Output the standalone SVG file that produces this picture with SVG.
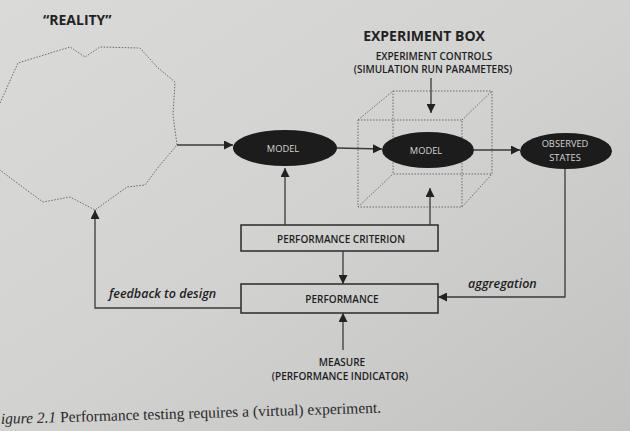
<svg xmlns="http://www.w3.org/2000/svg" width="630" height="431" viewBox="0 0 630 431">
<defs>
<linearGradient id="bg" x1="0" y1="0" x2="1" y2="1">
<stop offset="0" stop-color="#dadad9"/>
<stop offset="0.5" stop-color="#d2d2d1"/>
<stop offset="1" stop-color="#c2c2c1"/>
</linearGradient>
<marker id="ah" viewBox="0 0 10 10" refX="10" refY="5" markerWidth="9" markerHeight="9" markerUnits="userSpaceOnUse" orient="auto">
<path d="M0,0 L10,5 L0,10 Z" fill="#222"/>
</marker>
<style>
.ln{fill:none;stroke:#3a3a3a;stroke-width:1.3}
.dot{fill:none;stroke:#6a6a6a;stroke-width:1;stroke-dasharray:1.5 1.5}
.ell{fill:#1c1c1c}
.box{fill:none;stroke:#2a2a2a;stroke-width:1.5}
.sans{font-family:"Open Sans","Liberation Sans",sans-serif;}
.wt{fill:#d4d4d4;font-size:9.3px;text-anchor:middle;font-weight:400}
.bt{fill:#1e1e1e;font-size:10px;text-anchor:middle;font-weight:600}
.it{fill:#1e1e1e;font-size:12.5px;font-style:italic;font-weight:600}
.ti{fill:#222;font-size:14px;font-weight:bold}
</style>
</defs>
<rect width="630" height="431" fill="url(#bg)"/>
<text x="43" y="25" class="sans ti">“REALITY”</text>
<text x="424" y="41" class="sans ti" text-anchor="middle">EXPERIMENT BOX</text>
<text x="434" y="60" class="sans bt" font-weight="400" font-size="10.3">EXPERIMENT CONTROLS</text>
<text x="433" y="73" class="sans bt" font-weight="400" font-size="10.3">(SIMULATION RUN PARAMETERS)</text>

<g id="reality">
<path class="dot" d="M0,103 L18,63 L70,47 L85,57 L100,47 L140,48 L157,67 L175,82 L173,115 L177,145 L160,165 L145,185 L127,187 L95,210 L70,197 L43,202 L17,183 L0,170"/>
</g>
<g id="experiment-box">
<path class="dot" d="M358,120 H462 V207 H358 Z M393,91 H492 V174 H393 Z M358,120 L393,91 M462,120 L492,91 M462,207 L492,174 M358,207 L393,174"/>
</g>
<g id="model1">
<ellipse class="ell" cx="285" cy="148" rx="52" ry="18"/>
<text x="283" y="152" class="sans wt">MODEL</text>
</g>
<g id="model2">
<ellipse class="ell" cx="428" cy="150" rx="46" ry="18"/>
<text x="426" y="154" class="sans wt">MODEL</text>
</g>
<g id="observed">
<ellipse class="ell" cx="566" cy="151" rx="46" ry="18"/>
<text x="565" y="147" class="sans wt">OBSERVED</text>
<text x="565" y="161" class="sans wt">STATES</text>
</g>
<g id="criterion">
<rect class="box" x="241" y="225" width="197" height="26"/>
<text x="341" y="243" class="sans bt" font-size="10.5">PERFORMANCE CRITERION</text>
</g>
<g id="performance">
<rect class="box" x="241" y="284" width="197" height="29"/>
<text x="342" y="303" class="sans bt">PERFORMANCE</text>
</g>
<g id="measure">
<text x="342" y="366" class="sans bt" font-weight="400" font-size="10.3">MEASURE</text>
<text x="340" y="380" class="sans bt" font-weight="400" font-size="10.3">(PERFORMANCE INDICATOR)</text>
</g>
<g id="connectors">
<line class="ln" x1="177" y1="145" x2="233" y2="145" marker-end="url(#ah)"/>
<line class="ln" x1="337" y1="148" x2="382" y2="149" marker-end="url(#ah)"/>
<line class="ln" x1="474" y1="150" x2="520" y2="150" marker-end="url(#ah)"/>
<line class="ln" x1="431" y1="78" x2="431" y2="113" marker-end="url(#ah)"/>
<line class="ln" x1="285" y1="225" x2="285" y2="168" marker-end="url(#ah)"/>
<line class="ln" x1="430" y1="225" x2="430" y2="188" marker-end="url(#ah)"/>
<line class="ln" x1="343" y1="251" x2="343" y2="284" marker-end="url(#ah)"/>
<line class="ln" x1="343" y1="350" x2="343" y2="313" marker-end="url(#ah)"/>
<polyline class="ln" points="565,169 565,297 438,297" marker-end="url(#ah)"/>
<polyline class="ln" points="241,308 95,308 95,210" marker-end="url(#ah)"/>
<text x="109" y="298" class="sans it" font-size="13.5">feedback to design</text>
<text x="468" y="288" class="sans it" font-size="12">aggregation</text>
</g>
<text transform="rotate(-1.7 0 424)" x="1" y="424" font-family="'Liberation Serif',serif" font-size="15.5" fill="#2a2a2a"><tspan font-style="italic">igure 2.1</tspan>  Performance testing requires a (virtual) experiment.</text>
</svg>
